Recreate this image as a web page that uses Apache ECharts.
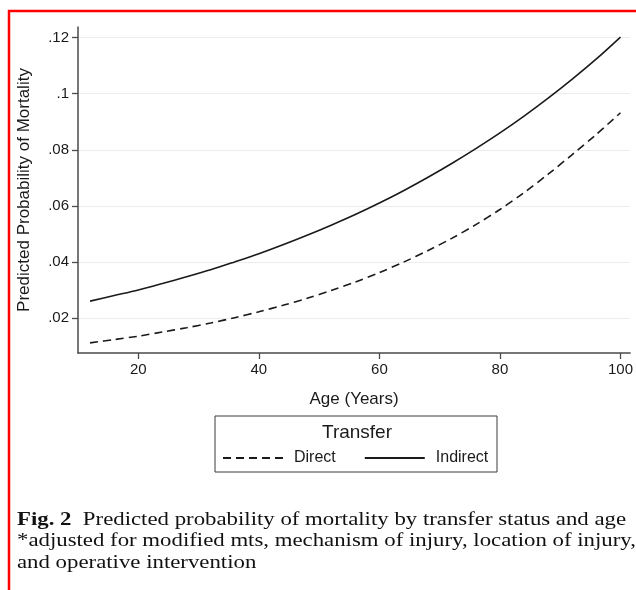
<!DOCTYPE html>
<html>
<head>
<meta charset="utf-8">
<script src="https://cdn.jsdelivr.net/npm/echarts@6/dist/echarts.min.js"></script>
<style>
  html, body { margin: 0; padding: 0; background: #fff; }
  #chart { width: 636px; height: 590px; }
</style>
</head>
<body>
<div id="chart"></div>
<script>
// ---- data ----
var ages = [12, 16, 20, 24, 28, 32, 36, 40, 44, 48, 52, 56, 60, 64, 68, 72, 76, 80, 84, 88, 92, 96, 100];
var directProb = [0.0111, 0.0123, 0.0135, 0.0150, 0.0165, 0.0182, 0.0201, 0.0222, 0.0245, 0.0270, 0.0298, 0.0328, 0.0362, 0.0399, 0.0440, 0.0484, 0.0533, 0.0587, 0.0647, 0.0713, 0.0783, 0.0855, 0.0932];
var indirectProb = [0.0260, 0.0280, 0.0300, 0.0323, 0.0347, 0.0372, 0.0400, 0.0429, 0.0461, 0.0495, 0.0531, 0.0569, 0.0610, 0.0654, 0.0701, 0.0751, 0.0804, 0.0860, 0.0920, 0.0984, 0.1052, 0.1124, 0.1202];
var xTicks = [20, 40, 60, 80, 100];
var yTicks = [0.02, 0.04, 0.06, 0.08, 0.10, 0.12];
var seriesNames = ['Direct', 'Indirect'];
var legendTitle = 'Transfer';
var xTitle = 'Age (Years)';
var yTitle = 'Predicted Probability of Mortality';
var captionBold = 'Fig. 2';
var captionLines = [
  'Predicted probability of mortality by transfer status and age',
  '*adjusted for modified mts, mechanism of injury, location of injury,',
  'and operative intervention'
];

function pairs(xs, ys) { return xs.map(function (x, i) { return [x, ys[i]]; }); }

var chart = echarts.init(document.getElementById('chart'), null, { renderer: 'canvas' });
var sans = 'Liberation Sans, Arial, Helvetica, sans-serif';
var serif = 'Liberation Serif, Times New Roman, serif';
var ink = '#1a1a1a';
var capSize = 19;
var capFont = capSize + 'px ' + serif;
var capScaleX = 1.2;

chart.setOption({
  backgroundColor: '#ffffff',
  animation: false,
  grid: { left: 78, right: 4, top: 27, bottom: 237, containLabel: false },
  xAxis: {
    type: 'value', min: 10, max: 101.6,
    name: xTitle, nameLocation: 'middle', nameGap: 38,
    nameTextStyle: { fontFamily: sans, fontSize: 17, color: ink },
    axisLine: { show: true, lineStyle: { color: '#4a4a4a', width: 1.5 } },
    axisTick: { show: true, length: 6, customValues: xTicks, lineStyle: { color: '#4a4a4a', width: 1.3 } },
    axisLabel: { customValues: xTicks, margin: 9, fontFamily: sans, fontSize: 15, color: ink },
    splitLine: { show: false }
  },
  yAxis: {
    type: 'value', min: 0.0075, max: 0.1238,
    name: yTitle, nameLocation: 'middle', nameGap: 45, nameRotate: 90,
    nameTextStyle: { fontFamily: sans, fontSize: 17, color: ink },
    axisLine: { show: true, lineStyle: { color: '#4a4a4a', width: 1.5 } },
    axisTick: { show: true, length: 6, customValues: yTicks, lineStyle: { color: '#4a4a4a', width: 1.3 } },
    axisLabel: {
      customValues: yTicks, margin: 9, fontFamily: sans, fontSize: 15, color: ink,
      formatter: function (v) { return String(parseFloat(v.toFixed(4))).replace(/^0\./, '.'); }
    },
    splitLine: { show: true, lineStyle: { color: '#ececec', width: 1.2 } }
  },
  legend: {
    data: seriesNames,
    left: 222, top: 450, padding: 0,
    itemWidth: 60, itemHeight: 14, itemGap: 28,
    itemStyle: { opacity: 0, color: 'rgba(0,0,0,0)', borderWidth: 0 },
    textStyle: { fontFamily: sans, fontSize: 16, color: ink, padding: [0, 0, 0, 6] }
  },
  series: [
    {
      name: seriesNames[0], type: 'line', data: pairs(ages, directProb),
      symbol: 'none', smooth: 0.3,
      lineStyle: { color: ink, width: 1.6, type: [8, 5] },
      itemStyle: { color: ink }
    },
    {
      name: seriesNames[1], type: 'line', data: pairs(ages, indirectProb),
      symbol: 'none', smooth: 0.3,
      lineStyle: { color: ink, width: 1.6, type: 'solid' },
      itemStyle: { color: ink }
    }
  ],
  graphic: [
    { type: 'line', shape: { x1: 8, y1: 11, x2: 636, y2: 11 }, style: { stroke: '#ff0000', lineWidth: 2.5 } },
    { type: 'line', shape: { x1: 9, y1: 10, x2: 9, y2: 590 }, style: { stroke: '#ff0000', lineWidth: 2.5 } },
    { type: 'rect', shape: { x: 215, y: 416, width: 282, height: 56 }, style: { fill: 'none', stroke: '#3a3a3a', lineWidth: 1 } },
    { type: 'text', x: 357, y: 433, style: { text: legendTitle, font: '19px ' + sans, fill: ink, textAlign: 'center', textVerticalAlign: 'middle' } },
    { type: 'text', x: 17, y: 520, scaleX: capScaleX, style: {
        text: '{b|' + captionBold + '}  ' + captionLines[0],
        font: capFont, fill: '#111', textVerticalAlign: 'middle',
        rich: { b: { fontFamily: serif, fontSize: capSize, fontWeight: 'bold', fill: '#111' } }
    } },
    { type: 'text', x: 17, y: 541.5, scaleX: capScaleX, style: { text: captionLines[1], font: capFont, fill: '#111', textVerticalAlign: 'middle' } },
    { type: 'text', x: 17, y: 563, scaleX: capScaleX, style: { text: captionLines[2], font: capFont, fill: '#111', textVerticalAlign: 'middle' } }
  ]
});
</script>
</body>
</html>
